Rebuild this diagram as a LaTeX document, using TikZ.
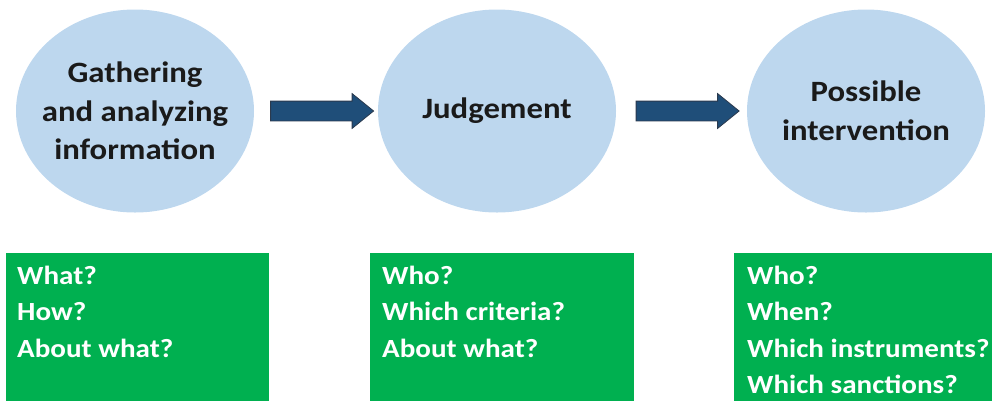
\documentclass[tikz,border=0pt]{standalone}
\usepackage{fontspec}
\setmainfont{Carlito}[FakeStretch=1.11]
\usetikzlibrary{shapes.geometric,shapes.arrows,calc}
\definecolor{circfill}{HTML}{BDD7EE}
\definecolor{arrfill}{HTML}{1F4E79}
\definecolor{arrline}{HTML}{2B3A4E}
\definecolor{boxgreen}{HTML}{00B050}
\definecolor{txtdark}{HTML}{1A1A1A}
\tikzset{
  stage/.style={ellipse, fill=circfill, draw=none, minimum width=238pt, minimum height=203pt,
    inner xsep=-40pt, inner ysep=0pt,
    align=center, text=txtdark, font=\bfseries\fontsize{29.5}{38.5}\selectfont},
  blockarrow/.style={single arrow, fill=arrfill, draw=arrline, line width=0.8pt, minimum height=103pt,
    inner xsep=0pt, inner ysep=9.5pt, single arrow head extend=7.5pt, single arrow tip angle=78, text height=0pt, text depth=0pt},
  qbox/.style={rectangle, fill=boxgreen, draw=none, anchor=north west, minimum height=160pt, inner sep=0pt},
  qtext/.style={anchor=north west, align=left, text=white, inner sep=0pt, font=\bfseries\fontsize{26.2}{36.3}\selectfont},
}
\begin{document}
\begin{tikzpicture}[x=1pt,y=-1pt]
\useasboundingbox (0,0) rectangle (992,400);
\node[stage] (e1) at (135,111) {Gathering\\and analyzing\\information};
\node[stage] (e2) at (497,111) {Judgement};
\node[stage] (e3) at (866,111) {Possible\\intervention};
\node[blockarrow] (a1) at ($(e1.east)!0.5!(e2.west)$) {};
\node[blockarrow] (a2) at ($(e2.east)!0.5!(e3.west)$) {};
\node[qbox, minimum width=263pt] (b1) at (6,253) {};
\node[qbox, minimum width=264pt] (b2) at (370,253) {};
\node[qbox, minimum width=270pt] (b3) at (734,253) {};
\node[qtext] (t1) at (17,266) {What?\\How?\\About what?};
\node[qtext] (t2) at (382,266) {Who?\\Which criteria?\\About what?};
\node[qtext] (t3) at (747,266) {Who?\\When?\\Which instruments?\\Which sanctions?};
\end{tikzpicture}
\end{document}
